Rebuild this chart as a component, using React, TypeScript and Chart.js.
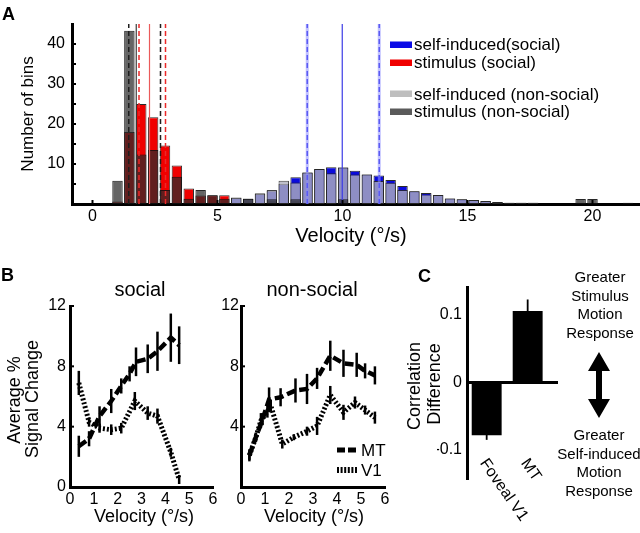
import React, { useEffect, useRef } from 'react';
import { Chart, registerables } from 'chart.js';

Chart.register(...registerables);

const FONT = '"Liberation Sans", Arial, Helvetica, sans-serif';
Chart.defaults.font.family = FONT;
Chart.defaults.color = '#000';

// ---------------- Panel A: velocity histogram ----------------
const binCenters = [1.0, 1.475, 1.95, 2.425, 2.9, 3.375, 3.85, 4.325, 4.8, 5.275, 5.75, 6.225, 6.7, 7.175, 7.65, 8.125, 8.6, 9.075, 9.55, 10.025, 10.5, 10.975, 11.45, 11.925, 12.4, 12.875, 13.35, 13.825, 14.3, 14.775, 15.25, 15.725, 16.2, 16.675, 17.15, 17.625, 18.1, 18.575, 19.05, 19.525, 20.0, 20.475, 20.95, 21.425];
const selfSocialCounts = [0, 0, 0, 0, 0, 0, 0, 0, 0, 0, 1.5, 1.3, 2.5, 3.3, 5.0, 6.7, 7.9, 8.75, 9.2, 9.1, 8.3, 7.4, 7.1, 6.0, 4.5, 3.2, 2.75, 2.25, 1.4, 1.2, 1.0, 0.75, 0.5, 0.3, 0.3, 0.3, 0, 0, 0, 0, 0, 0, 0, 0];
const selfNonSocialCounts = [0, 0, 0, 0, 0, 0, 0, 0, 0, 0, 1.6, 1.3, 2.7, 3.5, 5.8, 5.4, 7.9, 8.75, 7.7, 9.1, 7.4, 7.4, 5.75, 5.3, 3.5, 3.2, 2.4, 2.25, 1.4, 1.2, 1.0, 0.75, 0.5, 0.3, 0.3, 0.3, 0, 0, 0, 0, 0, 0, 0, 0];
const stimSocialCounts = [0.6, 18, 25, 21.7, 14.6, 9.6, 3.9, 2.1, 2.2, 2.2, 0, 0, 0, 0, 0, 0, 0, 0, 0, 0, 0, 0, 0, 0, 0, 0, 0, 0, 0, 0, 0, 0, 0, 0, 0, 0, 0, 0, 0, 0, 0, 0, 0, 0];
const stimNonSocialCounts = [5.8, 43.3, 12.4, 13.5, 3.5, 6.8, 1.3, 3.5, 2.2, 1.3, 0, 1.3, 0, 1.2, 0, 1.2, 0, 0, 0, 1.2, 0, 0, 0, 0, 0, 0, 0, 0, 0, 0, 0, 0, 0, 0, 0, 0, 0, 0, 0, 1.25, 1.25, 0, 0, 0.3];
const xTicksA = [0, 5, 10, 15, 20];
const yTicksA = [10, 20, 30, 40];
const yMinorTicksA = [5, 10, 15, 20, 25, 30, 35, 40];
const xRangeA = [-0.82, 21.9];
const yRangeA = [0, 45];
const stimNonSocialMean = [1.75];
const stimNonSocialSd = [1.45, 2.72];
const stimSocialMean = [2.28];
const stimSocialSd = [1.86, 2.92];
const selfSocialMean = [9.99];
const selfSocialSd = [8.59, 11.47];

// ---------------- Panel B: signal change vs velocity ----------------
const socialMtX = [0.37, 0.8, 1.24, 1.73, 2.15, 2.5, 2.77, 3.26, 3.67, 4.23, 4.58];
const socialMtY = [2.7, 3.2, 4.7, 5.7, 6.7, 7.5, 8.3, 8.5, 9.0, 9.9, 9.4];
const socialMtErr = [0.7, 0.5, 0.65, 0.8, 0.5, 0.5, 0.95, 0.95, 1.3, 1.6, 1.25];
const socialV1X = [0.37, 0.8, 1.24, 1.73, 2.15, 2.72, 3.26, 3.67, 4.23, 4.58];
const socialV1Y = [6.9, 4.3, 3.9, 3.8, 3.9, 5.7, 4.9, 4.7, 2.3, 0.5];
const socialV1Err = [0.8, 0.3, 0.3, 0.35, 0.35, 0.6, 0.45, 0.5, 0.3, 0.3];
const nonSocialMtX = [0.35, 0.62, 0.9, 1.17, 1.65, 2.27, 2.75, 3.17, 3.72, 4.27, 4.82, 5.17, 5.58];
const nonSocialMtY = [2.1, 3.3, 4.5, 5.8, 5.95, 6.4, 6.5, 7.2, 8.7, 8.2, 8.1, 7.7, 7.4];
const nonSocialMtErr = [0.4, 0.3, 0.4, 0.8, 0.6, 0.8, 1.0, 0.7, 1.0, 0.9, 0.8, 0.5, 0.6];
const nonSocialV1X = [0.35, 0.62, 0.83, 1.1, 1.24, 1.72, 2.2, 2.75, 3.17, 3.72, 4.27, 4.75, 5.17, 5.58];
const nonSocialV1Y = [2.1, 3.3, 4.4, 5.0, 5.4, 2.85, 3.3, 3.7, 4.05, 6.1, 4.95, 5.6, 5.1, 4.6];
const nonSocialV1Err = [0.3, 0.3, 0.5, 0.4, 0.4, 0.3, 0.2, 0.3, 0.6, 0.6, 0.5, 0.4, 0.3, 0.4];
const xTicksB = [0, 1, 2, 3, 4, 5, 6];
const yTicksBSocial = [0, 4, 8, 12];
const yTicksBNonSocial = [4, 8, 12];
const yInnerTicksB = [0, 4, 8, 12];

// ---------------- Panel C: correlation difference ----------------
const cCategories = ['Foveal V1', 'MT'];
const cPositions = [1, 2];
const cValues = [-0.078, 0.106];
const cErrors = [0.007, 0.017];
const yTicksC = [-0.1, 0, 0.1];

// chart area helper: left, top, right, bottom of plotting area in page pixels
function area(L: number, T: number, R: number, B: number, yW: number, xH: number) {
  return { padding: { left: L - yW, top: T, right: 640 - R, bottom: 533 - B - xH } };
}

function innerTicksPlugin(xs: number[], ys: number[], len: number) {
  return {
    id: 'innerTicks',
    afterDraw(chart: any) {
      const { ctx, chartArea, scales } = chart;
      ctx.save();
      ctx.strokeStyle = '#000';
      ctx.lineWidth = 2;
      ys.forEach((v) => {
        const py = scales.y.getPixelForValue(v);
        ctx.beginPath();
        ctx.moveTo(chartArea.left, py);
        ctx.lineTo(chartArea.left + len, py);
        ctx.stroke();
      });
      xs.forEach((v) => {
        const px = scales.x.getPixelForValue(v);
        ctx.beginPath();
        ctx.moveTo(px, chartArea.bottom);
        ctx.lineTo(px, chartArea.bottom - len);
        ctx.stroke();
      });
      ctx.restore();
    },
  };
}

const errorBarsPlugin = {
  id: 'errorBars',
  afterDatasetsDraw(chart: any) {
    const { ctx, scales } = chart;
    chart.data.datasets.forEach((ds: any, i: number) => {
      if (!ds.errorBars) return;
      const meta = chart.getDatasetMeta(i);
      ctx.save();
      ctx.strokeStyle = '#000';
      ctx.lineWidth = ds.errorWidth || 2.5;
      meta.data.forEach((el: any, j: number) => {
        const y = ds.data[j].y;
        const e = ds.errorBars[j];
        const y1 = scales.y.getPixelForValue(y + e);
        const y2 = scales.y.getPixelForValue(y - e);
        ctx.beginPath();
        ctx.moveTo(el.x, y1);
        ctx.lineTo(el.x, y2);
        ctx.stroke();
      });
      ctx.restore();
    });
  },
};

const slantLabelsPlugin = {
  id: 'slantLabels',
  afterDraw(chart: any) {
    const { ctx, scales, chartArea } = chart;
    ctx.save();
    ctx.font = `16px ${FONT}`;
    ctx.fillStyle = '#000';
    ctx.textAlign = 'left';
    ctx.textBaseline = 'top';
    cCategories.forEach((label, i) => {
      const px = scales.x.getPixelForValue(cPositions[i]);
      ctx.save();
      ctx.translate(px + 3, chartArea.bottom - 22);
      ctx.rotate((55 * Math.PI) / 180);
      ctx.fillText(label, 0, 0);
      ctx.restore();
    });
    ctx.restore();
  },
};

const axisBorder = { display: true, width: 3, color: '#000' };
const noGrid = { display: false, drawTicks: false, offset: false };

function buildA() {
  const bar = (counts: number[], bg: string, border: string, order: number) => ({
    type: 'bar',
    data: binCenters.map((x, i) => ({ x, y: counts[i] > 0 ? counts[i] : null })),
    backgroundColor: bg,
    borderColor: border,
    borderWidth: 1,
    borderSkipped: false,
    grouped: false,
    barPercentage: 0.88,
    categoryPercentage: 1,
    order,
  });
  const vlines = (vals: number[], color: string, width: number, dash: number[]) =>
    vals.map((v) => ({
      type: 'line',
      data: [
        { x: v, y: yRangeA[0] },
        { x: v, y: yRangeA[1] },
      ],
      borderColor: color,
      borderWidth: width,
      borderDash: dash,
      pointRadius: 0,
      fill: false,
      order: 0,
    }));
  return {
    type: 'bar',
    data: {
      datasets: [
        bar(stimNonSocialCounts, 'rgba(41,41,41,0.72)', 'rgba(15,15,15,0.9)', 1),
        bar(stimSocialCounts, 'rgb(240,0,0)', 'rgba(20,20,20,0.9)', 2),
        bar(selfNonSocialCounts, 'rgba(175,175,190,0.8)', 'rgba(40,40,40,0.85)', 3),
        bar(selfSocialCounts, 'rgb(10,10,220)', 'rgba(20,20,20,0.9)', 4),
        ...vlines(selfSocialSd, 'rgba(140,140,255,0.55)', 3, []),
        ...vlines(selfSocialSd, 'rgb(30,30,230)', 1.5, [5, 3]),
        ...vlines(selfSocialMean, 'rgb(60,60,230)', 1.2, []),
        ...vlines(stimSocialSd, 'rgb(235,40,40)', 1.5, [5, 3]),
        ...vlines(stimSocialMean, 'rgb(235,90,90)', 1.2, []),
        ...vlines(stimNonSocialSd, 'rgb(30,30,30)', 1.5, [5, 3]),
        ...vlines(stimNonSocialMean, 'rgb(60,60,60)', 1.2, []),
      ],
    },
    options: {
      responsive: false,
      animation: false,
      events: [],
      layout: area(72, 24, 640, 204, 72, 30),
      plugins: { legend: { display: false }, tooltip: { enabled: false } },
      scales: {
        x: {
          type: 'linear',
          min: xRangeA[0],
          max: xRangeA[1],
          offset: false,
          grid: noGrid,
          border: axisBorder,
          ticks: { font: { size: 16 }, padding: 3, autoSkip: false, maxRotation: 0, color: '#000' },
          afterBuildTicks: (s: any) => {
            s.ticks = xTicksA.map((value) => ({ value }));
          },
          afterFit: (s: any) => {
            s.height = 30;
          },
        },
        y: {
          type: 'linear',
          min: yRangeA[0],
          max: yRangeA[1],
          grid: noGrid,
          border: axisBorder,
          ticks: { font: { size: 16 }, padding: 7, autoSkip: false, color: '#000' },
          afterBuildTicks: (s: any) => {
            s.ticks = yTicksA.map((value) => ({ value }));
          },
          afterFit: (s: any) => {
            s.width = 72;
          },
        },
      },
    },
    plugins: [innerTicksPlugin(xTicksA, yMinorTicksA, 4)],
  };
}

function buildB(
  mtX: number[], mtY: number[], mtErr: number[],
  v1X: number[], v1Y: number[], v1Err: number[],
  L: number, R: number, yW: number, yTicks: number[], yPad: number
) {
  const line = (xs: number[], ys: number[], errs: number[], mt: boolean) => ({
    data: xs.map((x, i) => ({ x, y: ys[i] })),
    errorBars: errs,
    errorWidth: 2.5,
    borderColor: '#000',
    borderWidth: mt ? 4.5 : 5,
    borderDash: mt ? [9, 4] : [2, 2],
    borderCapStyle: 'butt',
    pointRadius: 0,
    tension: 0,
    fill: false,
  });
  return {
    type: 'line',
    data: { datasets: [line(mtX, mtY, mtErr, true), line(v1X, v1Y, v1Err, false)] },
    options: {
      responsive: false,
      animation: false,
      events: [],
      layout: area(L, 306, R, 487, yW, 30),
      plugins: { legend: { display: false }, tooltip: { enabled: false } },
      scales: {
        x: {
          type: 'linear',
          min: 0,
          max: 6,
          grid: noGrid,
          border: axisBorder,
          ticks: { font: { size: 16 }, padding: 3, autoSkip: false, maxRotation: 0, color: '#000' },
          afterBuildTicks: (s: any) => {
            s.ticks = xTicksB.map((value) => ({ value }));
          },
          afterFit: (s: any) => {
            s.height = 30;
          },
        },
        y: {
          type: 'linear',
          min: 0,
          max: 12,
          grid: noGrid,
          border: axisBorder,
          ticks: { font: { size: 16 }, padding: yPad, autoSkip: false, color: '#000' },
          afterBuildTicks: (s: any) => {
            s.ticks = yTicks.map((value) => ({ value }));
          },
          afterFit: (s: any) => {
            s.width = yW;
          },
        },
      },
    },
    plugins: [errorBarsPlugin, innerTicksPlugin([], yInnerTicksB, 4)],
  };
}

function buildC() {
  return {
    type: 'bar',
    data: {
      datasets: [
        {
          data: cPositions.map((x, i) => ({ x, y: cValues[i] })),
          errorBars: cErrors,
          errorWidth: 1.8,
          backgroundColor: '#000',
          borderWidth: 0,
          barPercentage: 0.73,
          categoryPercentage: 1,
        },
      ],
    },
    options: {
      responsive: false,
      animation: false,
      events: [],
      layout: area(467, 287, 558, 478, 30, 10),
      plugins: { legend: { display: false }, tooltip: { enabled: false } },
      scales: {
        x: {
          type: 'linear',
          min: 0.52,
          max: 2.74,
          offset: false,
          grid: noGrid,
          border: { display: false },
          ticks: { display: false },
          afterBuildTicks: (s: any) => {
            s.ticks = cPositions.map((value) => ({ value }));
          },
          afterFit: (s: any) => {
            s.height = 10;
          },
        },
        y: {
          type: 'linear',
          min: -0.1415,
          max: 0.1415,
          grid: {
            display: true,
            drawTicks: false,
            color: (c: any) => (c.tick && c.tick.value === 0 ? '#000' : 'rgba(0,0,0,0)'),
            lineWidth: 3,
          },
          border: axisBorder,
          ticks: { font: { size: 16 }, padding: 5, autoSkip: false, color: '#000' },
          afterBuildTicks: (s: any) => {
            s.ticks = yTicksC.map((value) => ({ value }));
          },
          afterFit: (s: any) => {
            s.width = 30;
          },
        },
      },
    },
    plugins: [errorBarsPlugin, slantLabelsPlugin],
  };
}

function ChartCanvas({ build }: { build: () => any }) {
  const ref = useRef<HTMLCanvasElement>(null);
  useEffect(() => {
    const chart = new Chart(ref.current as HTMLCanvasElement, build());
    return () => chart.destroy();
  }, []);
  return (
    <canvas
      ref={ref}
      width={640}
      height={533}
      style={{ position: 'absolute', left: 0, top: 0, width: 640, height: 533 }}
    />
  );
}

function Overlay() {
  const rot = (x: number, y: number) => `rotate(-90 ${x} ${y})`;
  return (
    <svg
      width={640}
      height={533}
      style={{ position: 'absolute', left: 0, top: 0, pointerEvents: 'none' }}
      fontFamily={FONT}
      fill="#000"
    >
      {/* Panel A */}
      <text x={2} y={20} fontSize={18} fontWeight="bold">A</text>
      <text x={33} y={114} fontSize={17} textAnchor="middle" transform={rot(33, 114)}>Number of bins</text>
      <text x={351} y={242} fontSize={20} textAnchor="middle">Velocity (°/s)</text>
      <rect x={390} y={41.5} width={22} height={6.5} fill="rgb(10,10,230)" />
      <rect x={390} y={59.5} width={22} height={6.5} fill="rgb(240,0,0)" />
      <rect x={390} y={90.5} width={22} height={6.5} fill="rgb(190,190,190)" />
      <rect x={390} y={108.5} width={22} height={6.5} fill="rgb(90,90,90)" />
      <text x={414} y={50} fontSize={17}>self-induced(social)</text>
      <text x={414} y={67.5} fontSize={17}>stimulus (social)</text>
      <text x={414} y={99.5} fontSize={17}>self-induced (non-social)</text>
      <text x={414} y={117} fontSize={17}>stimulus (non-social)</text>

      {/* Panel B */}
      <text x={1} y={281} fontSize={18} fontWeight="bold">B</text>
      <text x={140} y={296} fontSize={20} textAnchor="middle">social</text>
      <text x={312} y={296} fontSize={20} textAnchor="middle">non-social</text>
      <text x={20} y={400} fontSize={18} textAnchor="middle" transform={rot(20, 400)}>Average %</text>
      <text x={38} y={399} fontSize={18} textAnchor="middle" transform={rot(38, 399)}>Signal Change</text>
      <text x={144} y={522} fontSize={18} textAnchor="middle">Velocity (°/s)</text>
      <text x={314} y={522} fontSize={18} textAnchor="middle">Velocity (°/s)</text>
      <line x1={337} y1={450} x2={358} y2={450} stroke="#000" strokeWidth={5} strokeDasharray="8,3" />
      <line x1={337} y1={470} x2={357} y2={470} stroke="#000" strokeWidth={6} strokeDasharray="2,1.6" />
      <text x={361} y={456} fontSize={17}>MT</text>
      <text x={361} y={476} fontSize={17}>V1</text>

      {/* Panel C */}
      <text x={418} y={282} fontSize={18} fontWeight="bold">C</text>
      <text x={420} y={386} fontSize={18} textAnchor="middle" transform={rot(420, 386)}>Correlation</text>
      <text x={440} y={384} fontSize={18} textAnchor="middle" transform={rot(440, 384)}>Difference</text>
      <text x={600} y={282} fontSize={15} textAnchor="middle">Greater</text>
      <text x={600} y={300.5} fontSize={15} textAnchor="middle">Stimulus</text>
      <text x={600} y={319} fontSize={15} textAnchor="middle">Motion</text>
      <text x={600} y={337.5} fontSize={15} textAnchor="middle">Response</text>
      <path d="M599,352 L610,371 L602,371 L602,399 L610,399 L599,418 L588,399 L596,399 L596,371 L588,371 Z" fill="#000" />
      <text x={599} y={440} fontSize={15} textAnchor="middle">Greater</text>
      <text x={599} y={458.5} fontSize={15} textAnchor="middle">Self-induced</text>
      <text x={599} y={477} fontSize={15} textAnchor="middle">Motion</text>
      <text x={599} y={495.5} fontSize={15} textAnchor="middle">Response</text>
    </svg>
  );
}

export default function App() {
  return (
    <div style={{ position: 'absolute', left: 0, top: 0, width: 640, height: 533, background: '#fff', overflow: 'hidden' }}>
      <ChartCanvas build={buildA} />
      <ChartCanvas
        build={() =>
          buildB(socialMtX, socialMtY, socialMtErr, socialV1X, socialV1Y, socialV1Err, 70, 213, 70, yTicksBSocial, 4)
        }
      />
      <ChartCanvas
        build={() =>
          buildB(nonSocialMtX, nonSocialMtY, nonSocialMtErr, nonSocialV1X, nonSocialV1Y, nonSocialV1Err, 241, 385, 20, yTicksBNonSocial, 2)
        }
      />
      <ChartCanvas build={buildC} />
      <Overlay />
    </div>
  );
}
